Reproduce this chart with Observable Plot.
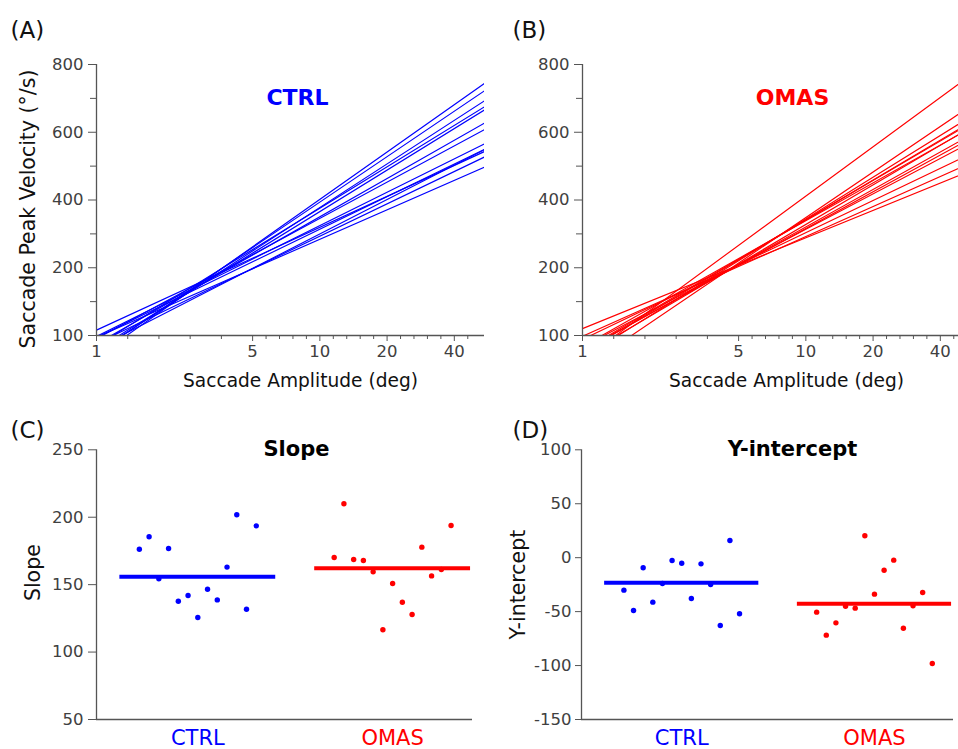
<!DOCTYPE html>
<html>
<head>
<meta charset="utf-8">
<script src="https://cdn.jsdelivr.net/npm/d3@7"></script>
<script src="https://cdn.jsdelivr.net/npm/@observablehq/plot@0.6"></script>
<style>
  html, body { margin: 0; padding: 0; background: #fff; }
  #wrap { position: relative; width: 958px; height: 749px; overflow: hidden; background: #fff; }
  .panel { position: absolute; }
  #wrap svg { max-width: none !important; font-family: "DejaVu Sans", sans-serif !important; }
  #wrap svg g[aria-label="y-axis tick label"],
  #wrap svg g[aria-label="x-axis tick label"] { font-size: 16.5px !important; }
</style>
</head>
<body>
<div id="wrap">
  <div class="panel" id="pA" style="left:0px; top:0px;"></div>
  <div class="panel" id="pB" style="left:490px; top:0px;"></div>
  <div class="panel" id="pC" style="left:0px; top:400px;"></div>
  <div class="panel" id="pD" style="left:480px; top:400px;"></div>
</div>
<script>
// ---------- data (subject order as in panels C/D) ----------
const groups = ["CTRL", "OMAS"];
const groupColors = ["#0000ff", "#ff0000"];
const ctrlSlope = [176.3, 185.5, 154.3, 176.8, 137.7, 142.0, 125.6, 146.6, 138.7, 163.0, 201.8, 131.8, 193.6];
const ctrlIntercept = [-30.1, -49.0, -9.4, -41.2, -23.9, -2.6, -5.1, -37.8, -5.7, -24.9, -62.9, 15.9, -52.0];
const omasSlope = [170.1, 210.0, 168.6, 167.9, 159.5, 116.5, 150.8, 137.0, 127.9, 177.8, 156.5, 161.2, 193.9];
const omasIntercept = [-50.5, -71.8, -60.4, -45.0, -46.8, 20.3, -33.8, -11.6, -2.3, -65.4, -44.6, -32.3, -98.1];
const slopeSummary = [155.8, 162.2];
const interceptSummary = [-23.3, -42.8];

// axis ticks / labels
const ampDomain = [1, Math.exp(4)];
const ampMajor = [1, 5, 10, 20, 40];
const velTicks = [0, 200, 400, 600, 800];
const velTickLabels = ["100", "200", "400", "600", "800"];
const velMinor = [100, 300, 500, 700];
const slopeTicks = [50, 100, 150, 200, 250];
const interceptTicks = [-150, -100, -50, 0, 50, 100];

// minor log ticks: 5 geometric subdivisions between majors
const ampMinor = [];
for (let i = 0; i < ampMajor.length - 1; i++) {
  const a = ampMajor[i], b = ampMajor[i + 1];
  for (let k = 1; k < 5; k++) ampMinor.push(a * Math.pow(b / a, k / 5));
}
ampMinor.push(40 * Math.pow(2, 1 / 5));

const AXIS = "#555";
const TICKTXT = "#404040";
const STYLE = "font-family: 'DejaVu Sans', sans-serif; font-size: 16px; background: transparent; overflow: visible; max-width: none;";

function fitLines(slopes, intercepts) {
  const rows = [];
  slopes.forEach((s, i) => {
    // V = s * ln(A) + b
    for (const a of ampDomain) rows.push({id: i, amp: a, vel: s * Math.log(a) + intercepts[i]});
  });
  return rows;
}

function topPanel(slopes, intercepts, gi, opts) {
  return Plot.plot({
    width: 490, height: 400,
    marginLeft: opts.marginLeft, marginRight: opts.marginRight, marginTop: 64, marginBottom: 65,
    style: STYLE,
    x: {type: "log", domain: ampDomain, axis: null},
    y: {domain: [0, 800], axis: null},
    marks: [
      Plot.line(fitLines(slopes, intercepts), {x: "amp", y: "vel", z: "id", stroke: groupColors[gi], strokeWidth: 1.15, clip: true}),
      Plot.ruleX([ampDomain[0]], {stroke: AXIS, strokeWidth: 1.3}),
      Plot.ruleY([0], {stroke: AXIS, strokeWidth: 1.3}),
      Plot.axisY({ticks: velTicks, tickFormat: d => velTickLabels[velTicks.indexOf(d)], tickSize: 8, tickPadding: 5, stroke: AXIS, fill: TICKTXT, label: null, fontSize: 16.5}),
      Plot.axisY({ticks: velMinor, tickFormat: () => "", tickSize: 6, stroke: AXIS, label: null}),
      Plot.axisX({ticks: ampMajor, tickFormat: d => String(d), tickSize: 6, tickPadding: 4, stroke: AXIS, fill: TICKTXT, label: null, fontSize: 16.5}),
      Plot.axisX({ticks: ampMinor, tickFormat: () => "", tickSize: 4, stroke: AXIS, label: null}),
      Plot.text(["Saccade Amplitude (deg)"], {frameAnchor: "bottom", dx: 10, dy: 51, textAnchor: "middle", lineAnchor: "bottom", fontSize: 18.6, fill: "#111"}),
      ...(opts.yTitle ? [Plot.text([opts.yTitle], {frameAnchor: "left", dx: -62, dy: 9, rotate: -90, textAnchor: "middle", lineAnchor: "bottom", fontSize: 20.5, fill: "#111"})] : []),
      Plot.text([groups[gi]], {frameAnchor: "top-left", dx: opts.titleX, dy: 40, textAnchor: "middle", lineAnchor: "bottom", fontSize: 22, fontWeight: "bold", fill: groupColors[gi]}),
      Plot.text([opts.tag], {frameAnchor: "top-left", dx: opts.tagDx, dy: -27, textAnchor: "start", lineAnchor: "bottom", fontSize: 23, fill: "#111"})
    ]
  });
}

function bottomPanel(slopes0, slopes1, summary, ticks, opts) {
  const dots = [];
  [slopes0, slopes1].forEach((arr, gi) => arr.forEach((v, i) => dots.push({g: gi, i, v})));
  const sums = summary.map((v, gi) => ({g: gi, v}));
  const xDomain = [0.48, 2.41];
  return Plot.plot({
    width: opts.width, height: 349,
    marginLeft: opts.marginLeft, marginRight: opts.marginRight, marginTop: 49.3, marginBottom: 30,
    style: STYLE,
    x: {domain: xDomain, axis: null},
    y: {domain: [ticks[0], ticks[ticks.length - 1]], axis: null},
    marks: [
      Plot.dot(dots, {x: d => d.g + 1 + (d.i - 6) * 0.05, y: "v", r: 2.7, fill: d => groupColors[d.g], stroke: null}),
      Plot.ruleY(sums, {y: "v", x1: d => d.g + 1 - 0.4, x2: d => d.g + 1 + 0.4, stroke: d => groupColors[d.g], strokeWidth: 4}),
      Plot.ruleX([xDomain[0]], {stroke: AXIS, strokeWidth: 1.3}),
      Plot.ruleY([ticks[0]], {stroke: AXIS, strokeWidth: 1.3}),
      Plot.axisY({ticks, tickFormat: d => String(d), tickSize: opts.tickSize, tickPadding: opts.tickPadding, stroke: AXIS, fill: TICKTXT, label: null, fontSize: 16.5}),
      Plot.text(groups, {x: (d, i) => i + 1, frameAnchor: "bottom", dy: 25, textAnchor: "middle", lineAnchor: "bottom", fontSize: 21, fill: (d, i) => groupColors[i]}),
      Plot.text([opts.title], {frameAnchor: "top", dx: opts.titleDx, dy: 6, textAnchor: "middle", lineAnchor: "bottom", fontSize: 21, fontWeight: "bold", fill: "#000"}),
      Plot.text([opts.yTitle], {frameAnchor: "left", dx: opts.yTitleDx, dy: opts.yTitleDy, rotate: -90, textAnchor: "middle", lineAnchor: "bottom", fontSize: 20.5, fill: "#111"}),
      Plot.text([opts.tag], {frameAnchor: "top-left", dx: opts.tagDx, dy: -12, textAnchor: "start", lineAnchor: "bottom", fontSize: 23, fill: "#111"})
    ]
  });
}

document.getElementById("pA").append(topPanel(ctrlSlope, ctrlIntercept, 0,
  {marginLeft: 96, marginRight: 6, yTitle: "Saccade Peak Velocity (°/s)", titleX: 201, tag: "(A)", tagDx: -86}));
document.getElementById("pB").append(topPanel(omasSlope, omasIntercept, 1,
  {marginLeft: 92, marginRight: 10, yTitle: null, titleX: 210, tag: "(B)", tagDx: -70}));

document.getElementById("pC").append(bottomPanel(ctrlSlope, omasSlope, slopeSummary, slopeTicks,
  {width: 480, marginLeft: 96, marginRight: 8, tickSize: 8, tickPadding: 5, title: "Slope", titleDx: 12,
   yTitle: "Slope", yTitleDx: -57, yTitleDy: -12, tag: "(C)", tagDx: -86}));
document.getElementById("pD").append(bottomPanel(ctrlIntercept, omasIntercept, interceptSummary, interceptTicks,
  {width: 478, marginLeft: 101, marginRight: 5, tickSize: 6, tickPadding: 4, title: "Y-intercept", titleDx: 25,
   yTitle: "Y-intercept", yTitleDx: -57, yTitleDy: 0, tag: "(D)", tagDx: -69}));
</script>
</body>
</html>
